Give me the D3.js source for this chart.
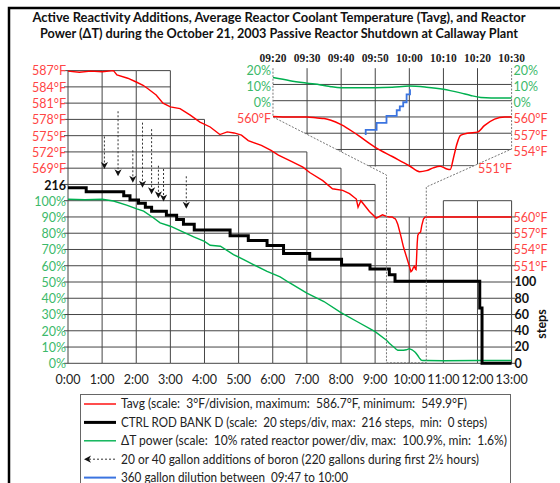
<!DOCTYPE html>
<html>
<head>
<meta charset="utf-8">
<script src="https://cdn.jsdelivr.net/npm/d3@7"></script>
<style>
  body { margin: 0; background: #fff; }
  svg { display: block; font-family: Lato, "Open Sans", sans-serif; }
</style>
</head>
<body>
<div id="chart"></div>
<script>
/************************
 *  Data
 ************************/
// Tavg (°F), time as h:mm after start
const tavgTime = ["0:00","0:20","0:40","1:00","1:20","1:26","1:45","2:00","2:12","2:20","2:35","2:47",
  "3:00","3:17","3:35","3:52","4:10","4:27","4:40","4:52","5:05","5:17","5:40","5:57","6:10","6:30",
  "6:53","7:05","7:28","7:45","8:03","8:15","8:27","8:30","8:35","8:50","9:02","9:13","9:20","9:25",
  "9:30","9:33","9:35","9:37","9:40","9:45","9:50","9:55","10:00","10:03","10:05","10:07","10:09",
  "10:11","10:12","10:13","10:14","10:15","10:17","10:20","10:22","10:25","10:28","10:30","11:00",
  "12:00","13:00"];
const tavgValue = [586.9,586.7,586.9,586.8,587.0,586.2,585.6,584.9,584.3,583.7,582.5,581.0,
  580.3,580.0,578.8,577.5,576.6,575.2,575.7,575.5,575.1,574.1,573.2,572.3,571.4,570.4,
  569.2,568.2,566.7,565.2,564.9,564.3,563.3,561.8,563.0,561.0,559.8,560.4,560.1,560.0,
  560.0,559.8,559.7,559.4,558.6,556.6,554.4,552.7,551.0,549.9,550.1,550.6,550.9,
  550.4,550.3,552.6,555.1,556.6,557.0,557.2,558.4,559.6,560.0,560.0,560.0,
  560.0,560.0];

// Delta-T power (% rated)
const powerTime = ["0:00","0:30","1:00","1:20","1:43","2:01","2:13","2:30","2:42","3:00","3:20","3:41",
  "4:00","4:10","4:28","4:51","5:09","5:26","5:50","6:13","6:30","7:00","7:30","8:00","8:28","9:00",
  "9:20","9:25","9:30","9:34","9:37","9:40","9:50","9:55","10:00","10:05","10:10","10:12","10:15",
  "10:18","10:21","10:24","10:30","11:00","12:00","13:00"];
const powerValue = [100.9,100.6,100.9,99.8,97.3,95.0,93.6,89.5,86.4,84.3,81.2,77.8,
  75.0,72.6,72.0,66.9,63.8,60.7,56.5,53.1,49.4,43.2,38.0,31.2,25.7,19.5,
  14.2,12.3,10.8,9.7,8.6,8.0,8.0,8.3,9.0,8.3,7.0,6.2,4.8,
  3.2,2.0,1.7,1.7,1.6,1.7,1.7];

// Control rod bank D position (steps), value holds until next time
const rodTime = ["0:00","0:32","1:38","1:49","2:04","2:16","2:27","2:53","3:11","3:23","3:42","4:45",
  "5:17","5:50","6:19","7:05","8:01","8:51","9:25","9:35","12:04","12:08","13:00"];
const rodSteps = [216,211,206,201,197,192,187,182,177,171,164,157,
  151,145,135,128,121,116,109,101,68,0,0];

// Boron additions: time, gallons, arrow tip level (steps axis)
const boronTime = ["1:04","1:28","1:54","2:11","2:27","2:39","2:48","3:28"];
const boronGallons = [20, 40, 20, 40, 40, 20, 20, 20];
const boronTipSteps = [239, 230, 222, 216, 208, 203, 199, 190];

// Dilution, cumulative gallons
const dilutionTime = ["9:47.2","9:47.2","9:50.4","9:53.3","9:56.3","9:57.2","9:58.2","9:59.2","10:00.2"];
const dilutionGallons = [0, 40, 95, 150, 195, 225, 258, 320, 360];

// Tick labels
const hourTicks = d3.range(0, 14);
const pctTicks = [0,10,20,30,40,50,60,70,80,90,100];
const tempTicksLeft = [569,572,575,578,581,584,587];
const tempTicksRight = [551,554,557,560];
const stepTicksRight = [0,20,40,60,80,100];
const insetTimeTicks = ["09:20","09:30","09:40","09:50","10:00","10:10","10:20","10:30"];
const insetPctTicks = [0,10,20];
const insetTempTicks = [554,557,560];

// top grid row of each hour column (staircase grid)
const gridTopRow = [18,18,18,15,14,13,13,12,11,9,9,10,10];

/************************
 *  Setup
 ************************/
const W = 560, H = 483;
const RED = "#ff0000", REDTXT = "#ff4545", GREEN = "#00b050", GREENTXT = "#3cb96a",
      BLUE = "#3b74e0", GRID = "#454545", DOT = "#777";

const parseT = s => { const p = s.split(":"); return +p[0] + parseFloat(p[1]) / 60; };

const rowH = 16.26, yBase = 363.3;
const x = d3.scaleLinear().domain([0, 13]).range([68, 511.6]);
const yRow = n => yBase - n * rowH;
const yPct = d3.scaleLinear().domain([0, 10]).range([yBase, yBase - rowH]);
const ySteps = d3.scaleLinear().domain([0, 20]).range([yBase, yBase - rowH]);
const yTemp = d3.scaleLinear().domain([560, 563]).range([yRow(9), yRow(10)]);

// inset scales
const t0 = parseT("9:20"), t1 = parseT("10:30");
const xIn = d3.scaleLinear().domain([t0, t1]).range([x(t0) - 113.5, x(13)]);
const inZero = 100.7;
const yInPct = d3.scaleLinear().domain([0, 10]).range([inZero, inZero - rowH]);
const yInTemp = d3.scaleLinear().domain([560, 557]).range([inZero + rowH, inZero + 2 * rowH]);
const yInGal = d3.scaleLinear().domain([0, 360]).range([yInPct(-21.1), yInPct(7)]);

const tavg = tavgTime.map((t, i) => ({ t: parseT(t), v: tavgValue[i] }));
const power = powerTime.map((t, i) => ({ t: parseT(t), v: powerValue[i] }));
const rod = rodTime.map((t, i) => ({ t: parseT(t), v: rodSteps[i] }));
const dil = dilutionTime.map((t, i) => ({ t: parseT(t), v: dilutionGallons[i] }));
const inWin = d => d.t >= t0 - 1e-6 && d.t <= t1 + 1e-6;

const svg = d3.select("#chart").append("svg").attr("width", W).attr("height", H);

// frame
svg.append("path").attr("d", "M9,483V8H560").attr("fill", "none")
  .attr("stroke", "#000").attr("stroke-width", 2.5);

// title
const titleLines = [
  ["Active Reactivity Additions, Average Reactor Coolant Temperature (Tavg), and Reactor", 22, 493],
  ["Power (\u0394T) during the October 21, 2003 Passive Reactor Shutdown at Callaway Plant", 38, 478]
];
titleLines.forEach(([s, y, len]) => {
  svg.append("text").attr("x", 279).attr("y", y).attr("text-anchor", "middle")
    .attr("font-size", 13.5).attr("font-weight", "bold").attr("fill", "#111")
    .attr("textLength", len).attr("lengthAdjust", "spacingAndGlyphs").text(s);
});

/************************
 *  Main grid
 ************************/
const grid = svg.append("g").attr("stroke", GRID).attr("stroke-width", 1);
gridTopRow.forEach((top, c) => {
  for (let n = 0; n <= top; n++) {
    grid.append("line").attr("x1", x(c)).attr("x2", x(c + 1)).attr("y1", yRow(n)).attr("y2", yRow(n));
  }
});
hourTicks.forEach(h => {
  const top = Math.max(gridTopRow[h - 1] || 0, gridTopRow[h] || 0);
  grid.append("line").attr("x1", x(h)).attr("x2", x(h)).attr("y1", yBase).attr("y2", yRow(top));
});
// axis ticks
d3.range(0, 19).forEach(n => grid.append("line").attr("x1", x(0) - 4).attr("x2", x(0))
  .attr("y1", yRow(n)).attr("y2", yRow(n)));
d3.range(0, 10).forEach(n => grid.append("line").attr("x1", x(13)).attr("x2", x(13) + 4)
  .attr("y1", yRow(n)).attr("y2", yRow(n)));

/************************
 *  Labels
 ************************/
const lab = svg.append("g").attr("font-size", 12.5);
hourTicks.forEach(h => lab.append("text").attr("x", x(h)).attr("y", 380).attr("dy", "0.35em")
  .attr("text-anchor", "middle").attr("fill", "#222").text(h + ":00"));
tempTicksLeft.forEach(t => lab.append("text").attr("x", 66).attr("y", yTemp(t) + 0.5).attr("dy", "0.35em")
  .attr("text-anchor", "end").attr("fill", REDTXT).text(t + "°F"));
pctTicks.forEach(p => lab.append("text").attr("x", 66).attr("y", yPct(p) + 0.5).attr("dy", "0.35em")
  .attr("text-anchor", "end").attr("fill", GREENTXT).text(p + "%"));
lab.append("text").attr("x", 66).attr("y", ySteps(216) - 2).attr("dy", "0.35em")
  .attr("text-anchor", "end").attr("font-weight", "bold").attr("fill", "#111").text("216");
tempTicksRight.forEach(t => lab.append("text").attr("x", x(13) + 2).attr("y", yTemp(t) + 0.5).attr("dy", "0.35em")
  .attr("fill", REDTXT).text(t + "°F"));
stepTicksRight.forEach(s => lab.append("text").attr("x", x(13) + 3).attr("y", ySteps(s)).attr("dy", "0.35em")
  .attr("font-weight", "bold").attr("fill", "#111").text(s));
lab.append("text").attr("transform", "translate(542,324) rotate(-90)").attr("dy", "0.35em")
  .attr("text-anchor", "middle").attr("font-weight", "bold").attr("fill", "#111").text("steps");

/************************
 *  Main series
 ************************/
svg.append("path").datum(power).attr("fill", "none").attr("stroke", GREEN).attr("stroke-width", 1.4)
  .attr("d", d3.line().x(d => x(d.t)).y(d => yPct(d.v)));
svg.append("path").datum(rod).attr("fill", "none").attr("stroke", "#000").attr("stroke-width", 3)
  .attr("d", d3.line().x(d => x(d.t)).y(d => ySteps(d.v)).curve(d3.curveStepAfter));
svg.append("path").datum(tavg).attr("fill", "none").attr("stroke", RED).attr("stroke-width", 1.4)
  .attr("d", d3.line().x(d => x(d.t)).y(d => yTemp(d.v)));

// boron arrows
const arrowHead = "M0,0L-3.6,-7L0,-5L3.6,-7Z";
boronTime.forEach((t, i) => {
  const xi = x(parseT(t)), tip = ySteps(boronTipSteps[i]);
  const top = tip - boronGallons[i] / 10 * rowH;
  svg.append("line").attr("x1", xi).attr("x2", xi).attr("y1", top).attr("y2", tip - 5)
    .attr("stroke", "#333").attr("stroke-dasharray", "2,2");
  svg.append("path").attr("d", arrowHead).attr("transform", `translate(${xi},${tip})`).attr("fill", "#111");
});

/************************
 *  Inset (09:20 - 10:30)
 ************************/
const A = [xIn(t0), yInTemp(560)], B = [x(t0), 175];
const C = [xIn(t1), 149], D = [x(t1), 187];
const atY = (p, q, y) => p[0] + (y - p[1]) / (q[1] - p[1]) * (q[0] - p[0]);
const inBottom = yInTemp(551) + 0.8;
const clipPts = [[A[0], 60], [C[0] + 1, 60], [C[0] + 1, C[1]], [atY(C, D, inBottom), inBottom],
  [atY(A, B, inBottom), inBottom], A];
svg.append("clipPath").attr("id", "inclip").append("polygon")
  .attr("points", clipPts.map(p => p.join(",")).join(" "));

const ig = svg.append("g").attr("clip-path", "url(#inclip)").attr("stroke", GRID);
[yInPct(10), yInPct(0), yInTemp(560), yInTemp(557), yInTemp(554), yInTemp(551)].forEach(y =>
  ig.append("line").attr("x1", A[0]).attr("x2", C[0]).attr("y1", y).attr("y2", y));
insetTimeTicks.slice(1, -1).forEach(s => {
  const xv = xIn(parseT(s));
  ig.append("line").attr("x1", xv).attr("x2", xv).attr("y1", yInPct(20)).attr("y2", 190);
});

// borders and connectors
const dotted = svg.append("g").attr("stroke", DOT).attr("stroke-dasharray", "2,1.5").attr("fill", "none");
dotted.append("path").attr("d", `M${A[0]},${yInPct(20)}V${A[1]}L${B[0]},${B[1]}V${yBase - 0.5}H${D[0]}V${D[1]}L${C[0]},${C[1]}V${yInPct(20)}`);

// inset labels
const il = svg.append("g").attr("font-size", 12.5);
insetTimeTicks.forEach(s => il.append("text").attr("x", xIn(parseT(s))).attr("y", 58).attr("dy", "0.35em")
  .attr("text-anchor", "middle").attr("font-family", "'Liberation Serif', serif").attr("font-weight", "bold")
  .attr("font-size", 11.5).attr("fill", "#222").text(s));
insetPctTicks.forEach(p => {
  il.append("text").attr("x", A[0] - 2).attr("y", yInPct(p) + 2).attr("dy", "0.35em").attr("text-anchor", "end")
    .attr("fill", GREENTXT).text(p + "%");
  il.append("text").attr("x", C[0] + 2).attr("y", yInPct(p) + 2).attr("dy", "0.35em")
    .attr("fill", GREENTXT).text(p + "%");
});
il.append("text").attr("x", A[0] - 2).attr("y", yInTemp(560) + 2).attr("dy", "0.35em").attr("text-anchor", "end")
  .attr("fill", REDTXT).text("560°F");
insetTempTicks.forEach(t => il.append("text").attr("x", C[0] + 2).attr("y", yInTemp(t) + 2).attr("dy", "0.35em")
  .attr("fill", REDTXT).text(t + "°F"));
il.append("text").attr("x", 478).attr("y", yInTemp(551) + 3).attr("dy", "0.35em")
  .attr("fill", REDTXT).text("551°F");

// inset series
svg.append("path").datum(power.filter(inWin)).attr("fill", "none").attr("stroke", GREEN).attr("stroke-width", 1.5)
  .attr("d", d3.line().x(d => xIn(d.t)).y(d => yInPct(d.v)).curve(d3.curveMonotoneX));
svg.append("path").datum(tavg.filter(inWin)).attr("fill", "none").attr("stroke", RED).attr("stroke-width", 1.5)
  .attr("d", d3.line().x(d => xIn(d.t)).y(d => yInTemp(d.v)).curve(d3.curveMonotoneX));
svg.append("path").datum(dil).attr("fill", "none").attr("stroke", BLUE).attr("stroke-width", 1.8)
  .attr("d", d3.line().x(d => xIn(d.t)).y(d => yInGal(d.v)).curve(d3.curveStepAfter));

/************************
 *  Legend
 ************************/
svg.append("rect").attr("x", 80.5).attr("y", 394.5).attr("width", 430).attr("height", 100)
  .attr("fill", "#fff").attr("stroke", "#666");
const legendItems = [
  { text: "Tavg (scale:  3°F/division, maximum:  586.7°F, minimum:  549.9°F)", len: 346, color: RED, w: 1.4 },
  { text: "CTRL ROD BANK D (scale:  20 steps/div, max:  216 steps,  min:  0 steps)", len: 366, color: "#000", w: 3 },
  { text: "\u0394T power (scale:  10% rated reactor power/div, max:  100.9%, min:  1.6%)", len: 386, color: GREEN, w: 1.4 },
  { text: "20 or 40 gallon additions of boron (220 gallons during first 2\u00bd hours)", len: 358, color: "#333", w: 1, dash: true },
  { text: "360 gallon dilution between  09:47 to 10:00", len: 227, color: BLUE, w: 2 }
];
legendItems.forEach((d, i) => {
  const y = 404 + i * 18.4;
  const ln = svg.append("line").attr("x1", d.dash ? 89 : 84).attr("x2", 116).attr("y1", y).attr("y2", y)
    .attr("stroke", d.color).attr("stroke-width", d.w);
  if (d.dash) {
    ln.attr("stroke-dasharray", "2,2");
    svg.append("path").attr("d", arrowHead).attr("transform", `translate(84,${y}) rotate(90)`).attr("fill", "#111");
  }
  svg.append("text").attr("x", 121).attr("y", y).attr("dy", "0.35em").attr("font-size", 12.5)
    .attr("fill", "#222").style("white-space", "pre")
    .attr("textLength", d.len).attr("lengthAdjust", "spacingAndGlyphs").text(d.text);
});
</script>
</body>
</html>
